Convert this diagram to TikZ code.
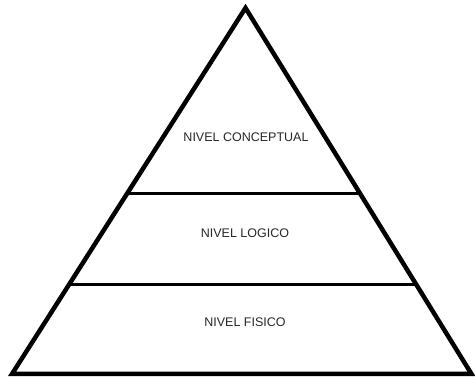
\documentclass[tikz,border=0pt]{standalone}
\usepackage{fontspec}
\setmainfont{Liberation Sans}
\usetikzlibrary{calc}

\tikzset{
  outline/.style={draw=black,line width=4.5pt},
  level/.style={draw=black,line width=2.5pt},
  label/.style={font=\fontsize{12.5}{15}\selectfont,text=black!85}
}

\begin{document}
\begin{tikzpicture}[x=1pt,y=1pt]
\useasboundingbox (0,0) rectangle (475,379);
\coordinate (apex) at (245.5,371);
\coordinate (bl) at (12,5);
\coordinate (br) at (471.5,5);
\draw[outline] (apex) -- (bl) -- (br) -- cycle;
% dividing lines between the levels
\coordinate (l1) at ($(apex)!.507!(bl)$);
\coordinate (r1) at ($(apex)!.507!(br)$);
\coordinate (l2) at ($(apex)!.755!(bl)$);
\coordinate (r2) at ($(apex)!.755!(br)$);
\draw[level] (l1) -- (r1);
\draw[level] (l2) -- (r2);
\node[label] (conc) at (246,242) {NIVEL CONCEPTUAL};
\node[label] (log) at (245,145.3) {NIVEL LOGICO};
\node[label] (fis) at (245,57) {NIVEL FISICO};
\end{tikzpicture}
\end{document}
